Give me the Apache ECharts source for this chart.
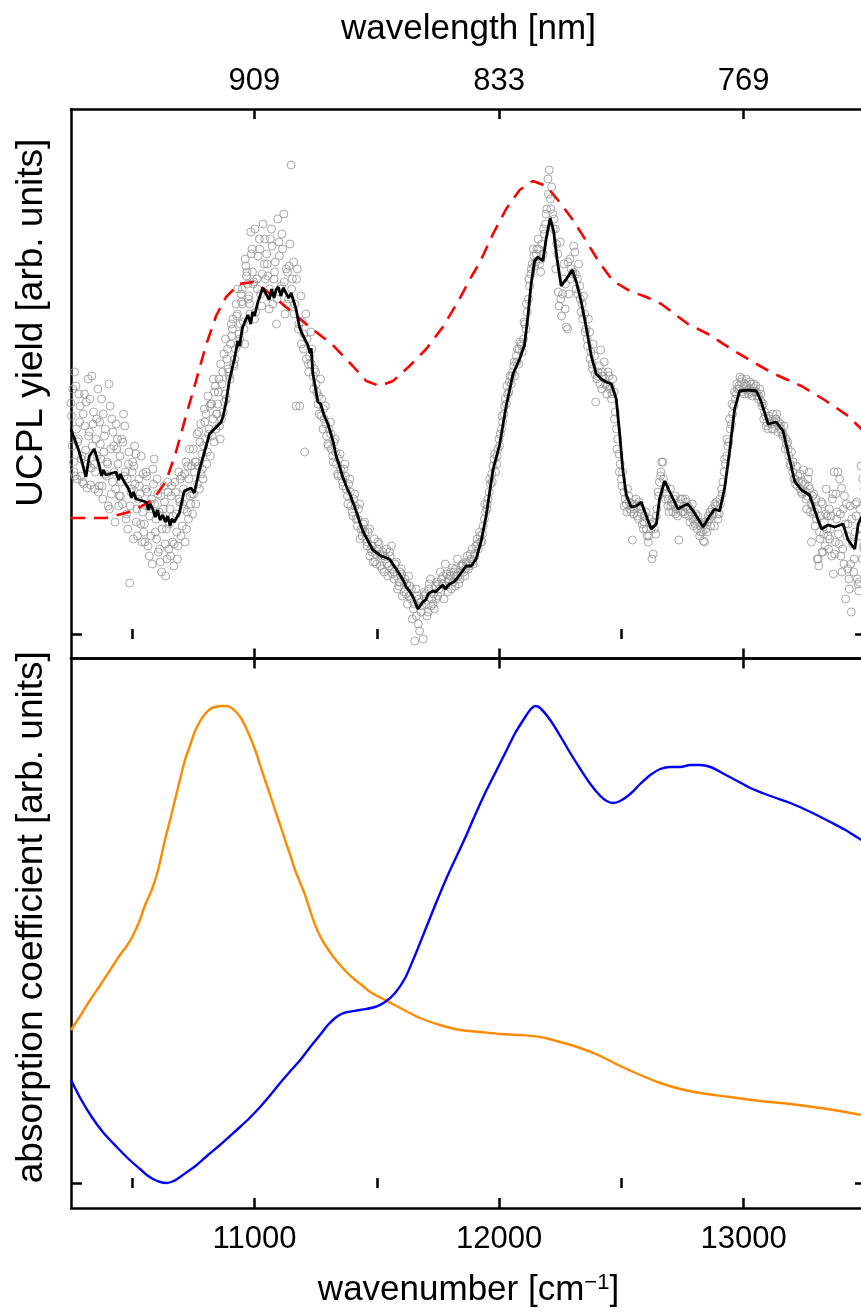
<!DOCTYPE html>
<html>
<head>
<meta charset="utf-8">
<script src="https://cdn.jsdelivr.net/npm/echarts@6/dist/echarts.min.js"></script>
<style>
  html, body { margin: 0; padding: 0; background: #ffffff; }
  #chart { width: 861px; height: 1312px; }
</style>
</head>
<body>
<div id="chart"></div>
<script>
// ---- axis ticks ----
const xMin = 10250, xMax = 13500;
const majorTicks = [11000, 12000, 13000];
const minorTicks = [10500, 11500, 12500, 13500];
const wavenumberTickLabels = ['11000', '12000', '13000'];
const wavelengthTickLabels = ['909', '833', '769'];

// ---- UCPL raw points: interleaved scans, step 10 cm^-1 each ----
const rawStartA = 10250;
const rawA = [
  2.31, 1.72, 2.48, 1.95, 1.58, 2.20, 1.84, 2.55, 1.49, 2.10,
  1.62, 2.45, 1.90, 1.35, 2.05, 1.70, 2.28, 1.52, 1.12, 1.95,
  1.78, 1.30, 2.08, 1.55, 0.51, 1.62, 1.88, 1.25, 1.48, 0.92,
  1.10, 1.58, 0.78, 1.35, 1.75, 0.95, 1.22, 0.62, 1.48, 1.05,
  0.85, 1.38, 0.68, 1.20, 1.62, 0.98, 1.45, 1.72, 1.15, 1.30,
  1.85, 1.30, 1.68, 2.10, 1.55, 1.95, 2.38, 1.78, 2.15, 2.48,
  2.30, 1.95, 2.62, 2.40, 2.85, 2.55, 3.05, 2.75, 3.20, 2.95,
  3.45, 2.90, 3.62, 3.30, 3.85, 3.15, 3.55, 3.95, 3.28, 3.70,
  3.80, 3.25, 4.05, 3.55, 3.10, 3.92, 3.48, 4.20, 3.65, 3.35,
  4.69, 3.72, 2.28, 3.05, 3.38, 2.85, 3.20, 2.70, 3.02, 2.58,
  2.62, 2.30, 2.55, 2.05, 2.28, 1.90, 2.12, 1.78, 1.95, 1.60,
  1.80, 1.52, 1.70, 1.38, 1.55, 1.22, 1.40, 1.08, 1.30, 0.98,
  1.12, 0.88, 1.05, 0.82, 0.95, 0.70, 0.90, 0.78, 0.62, 0.85,
  0.68, 0.88, 0.55, 0.72, 0.48, 0.65, 0.52, 0.40, 0.58, 0.35,
  0.25, 0.45, 0.10, 0.32, -0.05, 0.40, 0.22, 0.55, 0.30, 0.48,
  0.38, 0.62, 0.50, 0.70, 0.42, 0.58, 0.66, 0.48, 0.75, 0.55,
  0.70, 0.58, 0.78, 0.68, 0.85, 0.80, 0.95, 1.02, 0.92, 1.15,
  1.25, 1.42, 1.60, 1.75, 1.70, 1.95, 2.05, 2.20, 2.30, 2.42,
  2.50, 2.68, 2.78, 2.70, 2.90, 2.95, 3.05, 3.35, 3.60, 3.85,
  3.72, 3.95, 3.62, 3.80, 4.10, 4.55, 4.35, 4.20, 4.05, 3.80,
  3.92, 3.40, 3.25, 3.05, 3.75, 3.60, 3.82, 3.55, 3.48, 3.30,
  3.20, 2.95, 3.02, 2.70, 2.78, 2.55, 2.68, 2.45, 2.72, 2.40,
  2.58, 2.35, 2.42, 2.05, 1.80, 1.55, 1.42, 1.30, 1.38, 1.22,
  1.20, 1.35, 1.15, 1.25, 1.05, 1.22, 0.92, 1.10, 0.80, 1.00,
  1.42, 1.58, 1.72, 1.35, 1.28, 1.45, 1.22, 1.38, 1.18, 1.30,
  1.35, 1.20, 1.25, 1.12, 1.30, 1.15, 1.05, 0.98, 1.10, 0.92,
  1.02, 1.15, 1.25, 1.08, 1.32, 1.20, 1.45, 1.62, 1.78, 1.92,
  2.10, 2.28, 2.40, 2.48, 2.52, 2.45, 2.55, 2.40, 2.50, 2.46,
  2.48, 2.35, 2.40, 2.30, 2.18, 2.05, 2.12, 2.20, 2.15, 2.02,
  2.10, 1.98, 1.85, 1.92, 1.70, 1.62, 1.55, 1.48, 1.60, 1.40,
  1.50, 1.38, 1.45, 1.28, 1.22, 0.75, 1.02, 0.82, 1.12, 1.05,
  1.25, 0.78, 1.62, 1.15, 0.90, 1.46, 0.70, 1.30, 0.55, 0.22,
  0.62, 1.18, 0.43, 1.68, 0.88, 1.10
];
const rawStartB = 10255;
const rawB = [
  1.88, 2.62, 1.55, 2.12, 1.78, 2.40, 1.46, 2.02, 2.58, 1.70,
  2.15, 1.48, 2.35, 1.82, 1.58, 2.50, 1.40, 1.88, 2.10, 1.28,
  1.52, 2.20, 1.15, 1.70, 1.42, 0.95, 1.80, 1.35, 1.10, 1.60,
  1.45, 0.88, 1.30, 1.65, 1.02, 1.40, 0.72, 1.18, 0.90, 1.52,
  1.25, 0.92, 1.52, 0.75, 1.32, 1.08, 1.60, 1.22, 1.85, 1.40,
  1.62, 2.00, 1.45, 1.80, 2.25, 1.70, 2.05, 2.30, 1.92, 2.20,
  2.55, 2.15, 2.80, 2.35, 2.62, 3.10, 2.70, 3.30, 2.90, 3.40,
  3.12, 3.68, 3.35, 4.02, 3.50, 3.22, 3.78, 3.40, 4.10, 3.55,
  3.58, 3.95, 3.30, 3.72, 4.15, 3.45, 3.85, 3.20, 3.62, 3.90,
  3.55, 3.30, 3.65, 2.28, 3.12, 1.82, 2.95, 2.78, 2.85, 2.65,
  2.42, 2.20, 2.35, 2.15, 1.98, 2.05, 1.85, 1.92, 1.70, 1.75,
  1.58, 1.65, 1.45, 1.50, 1.28, 1.35, 1.15, 1.25, 1.05, 1.10,
  0.95, 1.02, 0.85, 0.72, 0.80, 0.92, 0.68, 0.82, 0.75, 0.58,
  0.78, 0.60, 0.70, 0.45, 0.62, 0.38, 0.55, 0.30, 0.48, 0.15,
  -0.07, 0.38, 0.03, 0.28, 0.42, 0.18, 0.50, 0.35, 0.25, 0.52,
  0.45, 0.55, 0.35, 0.60, 0.52, 0.45, 0.62, 0.58, 0.50, 0.68,
  0.62, 0.72, 0.65, 0.75, 0.70, 0.88, 0.85, 0.92, 1.08, 1.22,
  1.35, 1.50, 1.68, 1.62, 1.85, 2.00, 2.12, 2.35, 2.40, 2.58,
  2.62, 2.58, 2.85, 2.92, 2.82, 3.10, 3.22, 3.48, 3.70, 3.68,
  3.85, 3.70, 3.90, 4.00, 4.25, 4.64, 4.47, 4.15, 3.90, 3.28,
  3.18, 3.70, 3.07, 3.40, 3.65, 3.88, 3.45, 3.70, 3.22, 3.38,
  3.05, 3.15, 2.82, 2.90, 2.32, 2.62, 2.84, 2.58, 2.50, 2.62,
  2.48, 2.55, 2.22, 1.95, 1.70, 1.62, 1.35, 1.45, 1.25, 0.94,
  1.30, 1.18, 1.28, 1.10, 1.18, 0.98, 1.15, 0.75, 1.05, 1.25,
  1.52, 1.72, 1.45, 1.40, 1.22, 1.32, 1.35, 1.25, 0.94, 1.22,
  1.28, 1.32, 1.18, 1.22, 1.08, 1.20, 1.12, 1.02, 0.93, 1.05,
  1.18, 1.08, 1.20, 1.28, 1.15, 1.30, 1.52, 1.70, 1.88, 2.05,
  2.20, 2.35, 2.45, 2.57, 2.42, 2.50, 2.44, 2.52, 2.38, 2.42,
  2.38, 2.45, 2.28, 2.22, 2.12, 2.15, 2.05, 2.12, 2.20, 2.08,
  2.02, 2.08, 1.90, 1.78, 1.82, 1.55, 1.68, 1.52, 1.42, 1.64,
  1.35, 1.48, 1.30, 1.20, 1.35, 0.75, 1.18, 0.82, 1.20, 0.98,
  1.05, 1.40, 0.92, 1.62, 1.20, 0.85, 1.10, 0.65, 1.28, 0.90,
  1.02, 0.55, 1.25, 0.75, 1.45
];
const rawStartC = 10252;
const rawC = [
  2.18, 1.62, 2.05, 2.40, 1.75, 1.50, 2.32, 1.98, 1.66, 2.22,
  1.95, 1.42, 1.75, 2.20, 1.60, 1.28, 1.85, 2.02, 1.45, 1.70,
  1.38, 1.92, 1.62, 1.05, 1.28, 1.72, 1.50, 0.98, 1.40, 1.22,
  0.92, 1.42, 1.18, 0.70, 1.30, 1.55, 0.85, 1.05, 1.32, 0.75,
  1.10, 1.48, 0.90, 1.02, 1.35, 1.58, 1.25, 1.05, 1.55, 1.68,
  1.40, 1.72, 2.02, 1.60, 1.88, 2.20, 2.00, 2.30, 2.55, 2.05,
  2.42, 2.70, 2.22, 2.95, 2.65, 2.90, 3.15, 2.85, 3.45, 3.10,
  3.30, 3.75, 3.50, 3.20, 3.62, 4.05, 3.45, 3.85, 3.60, 3.95,
  3.70, 3.45, 3.88, 3.62, 3.35, 3.78, 4.00, 3.52, 3.30, 3.68,
  3.45, 3.20, 3.55, 3.10, 2.90, 3.00, 2.75, 2.62, 2.70, 2.45,
  2.50, 2.38, 2.18, 2.25, 2.10, 1.88, 2.00, 1.72, 1.82, 1.58,
  1.65, 1.48, 1.58, 1.30, 1.42, 1.18, 1.28, 1.15, 0.95, 1.05,
  1.02, 0.92, 0.78, 0.88, 0.72, 0.85, 0.80, 0.65, 0.78, 0.70,
  0.82, 0.65, 0.62, 0.58, 0.52, 0.60, 0.42, 0.50, 0.38, 0.45,
  0.30, 0.18, 0.35, 0.22, 0.38, 0.30, 0.45, 0.28, 0.40, 0.35,
  0.50, 0.42, 0.58, 0.48, 0.55, 0.62, 0.52, 0.65, 0.58, 0.62,
  0.68, 0.65, 0.70, 0.80, 0.72, 0.78, 0.90, 0.98, 1.00, 1.30,
  1.30, 1.55, 1.52, 1.80, 1.78, 1.88, 2.18, 2.28, 2.48, 2.52,
  2.58, 2.72, 2.72, 2.85, 2.88, 3.12, 3.30, 3.55, 3.65, 3.78,
  3.80, 3.85, 3.75, 4.05, 4.20, 4.40, 4.25, 4.05, 3.65, 3.42,
  3.35, 3.55, 3.50, 3.72, 3.55, 3.62, 3.60, 3.40, 3.35, 3.15,
  3.02, 2.88, 2.75, 2.65, 2.60, 2.58, 2.50, 2.62, 2.55, 2.48,
  2.45, 2.40, 2.15, 1.85, 1.62, 1.48, 1.28, 1.22, 1.32, 1.30,
  1.25, 1.28, 1.32, 1.20, 1.12, 1.05, 0.98, 1.05, 1.12, 1.18,
  1.38, 1.62, 1.55, 1.48, 1.35, 1.28, 1.30, 1.20, 1.25, 1.35,
  1.22, 1.35, 1.28, 1.25, 1.15, 1.10, 1.18, 1.08, 1.02, 1.12,
  1.12, 1.22, 1.18, 1.30, 1.20, 1.35, 1.40, 1.75, 1.95, 2.15,
  2.30, 2.42, 2.50, 2.45, 2.55, 2.40, 2.48, 2.45, 2.42, 2.50,
  2.42, 2.38, 2.32, 2.15, 2.08, 2.18, 2.10, 2.05, 2.15, 2.12,
  2.05, 2.00, 1.95, 1.85, 1.68, 1.72, 1.50, 1.58, 1.45, 1.52,
  1.42, 1.55, 1.22, 1.38, 1.08, 1.25, 0.95, 1.30, 0.88, 1.18,
  0.95, 1.35, 0.80, 1.22, 1.55, 0.62, 1.38, 0.98, 0.45, 1.15,
  0.75, 1.32, 0.52, 1.05, 0.85
];
// extra repeat scans over the noisy low- and high-energy ends
const rawStartD = 10257;
const rawD = [
  2.45, 1.58, 1.92, 2.28, 1.52, 2.08, 1.70, 2.35, 1.88, 1.45,
  1.78, 2.12, 1.48, 1.98, 1.72, 1.25, 2.15, 1.62, 1.85, 1.38,
  1.95, 1.58, 1.20, 1.82, 1.45, 1.68, 1.12, 1.55, 1.78, 1.02,
  1.62, 1.28, 0.98, 1.50, 1.15, 0.82, 1.38, 1.25, 0.58, 1.42,
  0.78, 1.18, 1.42, 0.88, 1.55, 1.30, 0.92, 1.68, 1.38, 1.20,
  1.72, 1.50, 1.92, 1.65, 2.12, 1.82, 2.28, 1.98, 2.42, 2.20,
  2.08, 2.50, 2.32, 2.75, 2.58, 2.98, 2.68, 3.18, 3.00, 3.32,
  3.05, 3.58, 3.38, 3.80, 3.52
];
const rawStartE = 13257;
const rawE = [
  1.25, 1.62, 0.92, 1.40, 1.15, 0.68, 1.32, 1.00, 1.45, 0.85,
  1.18, 0.60, 1.40, 1.00, 0.78, 1.25, 0.35, 1.10, 0.70, 0.92,
  1.30, 0.50, 0.98, 1.55, 0.80
];

// ---- UCPL smoothed trace [wavenumber, yield] ----
const ucplSmooth = [
  [10250,2.05],[10254,2.02],[10284,1.82],[10311,1.57],[10325,1.78],[10345,1.85],[10366,1.68],
  [10375,1.58],[10382,1.64],[10393,1.59],[10434,1.62],[10445,1.54],[10452,1.60],[10461,1.55],
  [10488,1.44],[10497,1.36],[10505,1.42],[10516,1.35],[10557,1.32],[10566,1.24],[10573,1.30],
  [10584,1.25],[10595,1.17],[10604,1.24],[10614,1.14],[10625,1.19],[10636,1.12],[10645,1.18],
  [10655,1.08],[10662,1.15],[10672,1.12],[10693,1.21],[10713,1.43],[10741,1.46],[10754,1.41],
  [10775,1.64],[10816,2.00],[10864,2.12],[10872,2.18],[10884,2.32],[10897,2.53],[10918,2.75],
  [10932,2.93],[10940,2.88],[10945,2.98],[10952,3.07],[10973,3.19],[10985,3.10],[10992,3.22],
  [11000,3.18],[11014,3.32],[11034,3.46],[11048,3.40],[11060,3.34],[11070,3.45],[11080,3.36],
  [11088,3.44],[11098,3.47],[11108,3.38],[11118,3.46],[11129,3.41],[11140,3.36],[11150,3.41],
  [11170,3.25],[11184,3.07],[11195,3.00],[11204,2.96],[11218,2.89],[11228,2.80],[11232,2.86],
  [11239,2.60],[11250,2.45],[11259,2.32],[11270,2.30],[11278,2.24],[11286,2.18],[11300,2.10],
  [11313,2.00],[11322,1.92],[11334,1.78],[11345,1.70],[11361,1.57],[11380,1.45],[11390,1.40],
  [11402,1.32],[11420,1.20],[11430,1.12],[11443,1.03],[11484,0.84],[11518,0.78],[11552,0.75],
  [11593,0.60],[11610,0.53],[11620,0.47],[11634,0.43],[11650,0.36],[11668,0.25],[11688,0.32],
  [11700,0.34],[11710,0.40],[11729,0.43],[11740,0.42],[11756,0.46],[11770,0.49],[11780,0.45],
  [11797,0.50],[11815,0.52],[11832,0.57],[11866,0.68],[11886,0.68],[11906,0.75],[11927,0.93],
  [11947,1.18],[11975,1.64],[12002,1.89],[12029,2.28],[12057,2.60],[12084,2.75],[12104,2.89],
  [12118,3.18],[12131,3.50],[12145,3.73],[12159,3.77],[12179,3.73],[12193,3.96],[12209,4.16],
  [12223,4.03],[12237,3.75],[12254,3.48],[12275,3.55],[12299,3.64],[12315,3.53],[12336,3.32],
  [12356,3.07],[12377,2.78],[12397,2.60],[12418,2.55],[12438,2.52],[12459,2.50],[12479,2.35],
  [12493,2.00],[12506,1.64],[12520,1.39],[12540,1.27],[12561,1.28],[12581,1.32],[12602,1.18],
  [12622,1.05],[12643,1.10],[12656,1.35],[12677,1.53],[12704,1.39],[12731,1.25],[12752,1.28],
  [12772,1.30],[12799,1.21],[12834,1.07],[12861,1.18],[12881,1.25],[12902,1.23],[12922,1.46],
  [12942,1.82],[12963,2.25],[12983,2.43],[13018,2.44],[13052,2.43],[13072,2.32],[13100,2.10],
  [13133,2.12],[13161,2.03],[13181,1.82],[13208,1.53],[13236,1.44],[13269,1.39],[13304,1.14],
  [13318,1.05],[13345,1.09],[13372,1.07],[13406,1.10],[13427,0.94],[13454,0.85],[13468,1.10],
  [13500,1.25]
];

// ---- modelled UCPL yield [wavenumber, yield] ----
const ucplModel = [
  [10250,1.16],[10393,1.16],[10502,1.23],[10584,1.34],[10639,1.53],[10679,1.82],[10720,2.18],
  [10761,2.53],[10802,2.89],[10843,3.18],[10884,3.37],[10937,3.50],[10993,3.52],[11034,3.46],
  [11060,3.41],[11129,3.27],[11211,3.10],[11320,2.89],[11402,2.68],[11457,2.53],[11511,2.48],
  [11566,2.53],[11634,2.68],[11702,2.85],[11770,3.07],[11838,3.35],[11886,3.57],[11920,3.71],
  [11975,4.00],[12029,4.25],[12084,4.44],[12138,4.53],[12193,4.48],[12247,4.32],[12302,4.14],
  [12356,3.93],[12411,3.71],[12466,3.53],[12534,3.43],[12602,3.37],[12663,3.30],[12772,3.10],
  [12854,3.00],[12949,2.85],[13045,2.71],[13126,2.60],[13236,2.48],[13331,2.34],[13427,2.18],
  [13481,2.05],[13500,2.02]
];

// ---- absorption coefficients [wavenumber, value] ----
const absorptionOrange = [
  [10250,1.53],[10290,1.68],[10328,1.83],[10370,1.98],[10410,2.13],[10450,2.28],[10475,2.36],
  [10500,2.46],[10530,2.62],[10553,2.78],[10580,2.93],[10605,3.12],[10634,3.43],[10655,3.63],
  [10675,3.83],[10696,4.04],[10716,4.23],[10737,4.38],[10757,4.52],[10778,4.62],[10798,4.69],
  [10819,4.74],[10839,4.76],[10860,4.77],[10880,4.77],[10900,4.76],[10921,4.72],[10942,4.66],
  [10962,4.57],[10982,4.46],[11003,4.33],[11023,4.18],[11043,4.03],[11064,3.88],[11084,3.73],
  [11105,3.58],[11125,3.43],[11146,3.28],[11166,3.13],[11187,3.00],[11207,2.88],[11228,2.72],
  [11248,2.58],[11268,2.47],[11289,2.38],[11320,2.27],[11350,2.18],[11380,2.10],[11412,2.03],
  [11443,1.97],[11473,1.91],[11534,1.83],[11596,1.75],[11677,1.65],[11759,1.58],[11841,1.53],
  [11923,1.51],[12005,1.49],[12086,1.48],[12168,1.46],[12250,1.41],[12332,1.35],[12414,1.27],
  [12495,1.17],[12577,1.08],[12659,1.00],[12741,0.94],[12823,0.90],[12945,0.86],[13068,0.82],
  [13191,0.79],[13313,0.75],[13416,0.71],[13481,0.68],[13500,0.67]
];
const absorptionBlue = [
  [10250,1.03],[10290,0.84],[10335,0.66],[10380,0.51],[10437,0.36],[10490,0.23],[10532,0.14],
  [10560,0.08],[10585,0.04],[10615,0.01],[10641,0.00],[10670,0.02],[10696,0.06],[10730,0.12],
  [10764,0.18],[10810,0.28],[10859,0.38],[10900,0.47],[10941,0.56],[10980,0.65],[11023,0.76],
  [11065,0.88],[11105,1.00],[11147,1.12],[11187,1.23],[11228,1.36],[11268,1.48],[11300,1.58],
  [11330,1.65],[11355,1.69],[11380,1.71],[11432,1.73],[11493,1.76],[11534,1.81],[11575,1.90],
  [11616,2.05],[11657,2.28],[11698,2.53],[11739,2.78],[11780,3.02],[11821,3.24],[11861,3.45],
  [11902,3.68],[11943,3.90],[11984,4.10],[12025,4.30],[12066,4.50],[12107,4.66],[12130,4.74],
  [12148,4.77],[12168,4.75],[12209,4.63],[12250,4.47],[12291,4.30],[12332,4.14],[12373,3.99],
  [12414,3.87],[12440,3.82],[12465,3.80],[12495,3.82],[12536,3.89],[12577,3.99],[12618,4.08],
  [12659,4.14],[12700,4.16],[12741,4.16],[12782,4.18],[12823,4.18],[12864,4.16],[12905,4.11],
  [12966,4.03],[13027,3.95],[13109,3.87],[13191,3.80],[13273,3.71],[13354,3.61],[13416,3.53],
  [13481,3.43],[13500,3.41]
];

// ---- build the raw point list from the interleaved grids ----
const rawPoints = [];
[[rawStartA, rawA], [rawStartB, rawB], [rawStartC, rawC], [rawStartD, rawD], [rawStartE, rawE]]
  .forEach(([start, values]) => values.forEach((v, i) => rawPoints.push([start + 10 * i, v])));

const FONT = '"Liberation Sans", Arial, Helvetica, sans-serif';
const AXIS_W = 2.5;

function xAxisDef(grid, position, ticks, tickLen, extra) {
  return Object.assign({
    type: 'value', gridIndex: grid, position: position, min: xMin, max: xMax,
    axisLine: { show: true, onZero: false, lineStyle: { color: '#000', width: AXIS_W } },
    axisTick: { show: true, inside: true, length: tickLen, customValues: ticks,
                lineStyle: { color: '#000', width: AXIS_W } },
    axisLabel: { show: false },
    splitLine: { show: false },
    minorTick: { show: false }
  }, extra || {});
}

function yAxisDef(grid, position, min, max, extra) {
  return Object.assign({
    type: 'value', gridIndex: grid, position: position, min: min, max: max,
    axisLine: { show: true, onZero: false, lineStyle: { color: '#000', width: AXIS_W } },
    axisTick: { show: true, inside: true, length: 11, customValues: [0],
                lineStyle: { color: '#000', width: AXIS_W } },
    axisLabel: { show: false },
    splitLine: { show: false }
  }, extra || {});
}

const tickLabelStyle = { fontSize: 31, color: '#000', fontFamily: FONT };
const titleStyle = { fontSize: 35, color: '#000', fontFamily: FONT };
const yTitleStyle = { fontSize: 37, color: '#000', fontFamily: FONT };

const chart = echarts.init(document.getElementById('chart'), null, { renderer: 'canvas' });

chart.setOption({
  backgroundColor: '#ffffff',
  animation: false,
  grid: [
    { left: 71, right: -5, top: 109, height: 549.5, outerBoundsMode: 'none', containLabel: false },
    { left: 71, right: -5, top: 658.5, height: 549.5, outerBoundsMode: 'none', containLabel: false }
  ],
  xAxis: [
    // upper panel: bottom edge
    xAxisDef(0, 'bottom', majorTicks, 10),
    xAxisDef(0, 'bottom', minorTicks, 5, { axisLine: { show: false } }),
    // upper panel: top edge, wavelength scale
    xAxisDef(0, 'top', majorTicks, 10, {
      name: 'wavelength [nm]', nameLocation: 'middle', nameGap: 62,
      nameTextStyle: titleStyle,
      axisLabel: Object.assign({ show: true, margin: 12, customValues: majorTicks,
        formatter: v => wavelengthTickLabels[majorTicks.indexOf(v)] }, tickLabelStyle)
    }),
    xAxisDef(0, 'top', minorTicks, 5, { axisLine: { show: false } }),
    // lower panel: top edge
    xAxisDef(1, 'top', majorTicks, 10),
    xAxisDef(1, 'top', minorTicks, 5, { axisLine: { show: false } }),
    // lower panel: bottom edge, wavenumber scale
    xAxisDef(1, 'bottom', majorTicks, 10, {
      name: 'wavenumber [cm{sup|−1}]', nameLocation: 'middle', nameGap: 64,
      nameTextStyle: Object.assign({ rich: { sup: { fontSize: 22, fontFamily: FONT, color: '#000', verticalAlign: 'top', padding: [0, 0, 14, 0] } } }, titleStyle),
      axisLabel: Object.assign({ show: true, margin: 16, customValues: majorTicks,
        formatter: v => wavenumberTickLabels[majorTicks.indexOf(v)] }, tickLabelStyle)
    }),
    xAxisDef(1, 'bottom', minorTicks, 5, { axisLine: { show: false } })
  ],
  yAxis: [
    yAxisDef(0, 'left', -0.245, 5.25, {
      name: 'UCPL yield [arb. units]', nameLocation: 'middle', nameRotate: 90, nameGap: 21,
      nameTextStyle: Object.assign({ padding: [0, 0, 0, 122] }, yTitleStyle)
    }),
    yAxisDef(0, 'right', -0.245, 5.25),
    yAxisDef(1, 'left', -0.25, 5.245, {
      name: 'absorption coefficient [arb. units]', nameLocation: 'middle', nameRotate: 90, nameGap: 21,
      nameTextStyle: Object.assign({ padding: [0, 0, 0, 32] }, yTitleStyle)
    }),
    yAxisDef(1, 'right', -0.25, 5.245)
  ],
  series: [
    {
      name: 'UCPL raw', type: 'scatter', xAxisIndex: 0, yAxisIndex: 0,
      data: rawPoints, symbol: 'circle', symbolSize: 8, silent: true,
      itemStyle: { color: 'rgba(0,0,0,0)', borderColor: '#959595', borderWidth: 1 },
      z: 1
    },
    {
      name: 'model', type: 'line', xAxisIndex: 0, yAxisIndex: 0,
      data: ucplModel, showSymbol: false, symbol: 'none', silent: true,
      lineStyle: { color: '#ff0000', width: 2.6, type: [14, 9] },
      z: 2
    },
    {
      name: 'UCPL smoothed', type: 'line', xAxisIndex: 0, yAxisIndex: 0,
      data: ucplSmooth, showSymbol: false, symbol: 'none', silent: true,
      lineStyle: { color: '#000000', width: 2.8 },
      z: 3
    },
    {
      name: 'absorption (orange)', type: 'line', xAxisIndex: 4, yAxisIndex: 2,
      data: absorptionOrange, showSymbol: false, symbol: 'none', smooth: 0.3, silent: true,
      lineStyle: { color: '#ff8a00', width: 2.4 }
    },
    {
      name: 'absorption (blue)', type: 'line', xAxisIndex: 4, yAxisIndex: 2,
      data: absorptionBlue, showSymbol: false, symbol: 'none', smooth: 0.3, silent: true,
      lineStyle: { color: '#0000ff', width: 2.4 }
    }
  ]
});
</script>
</body>
</html>
